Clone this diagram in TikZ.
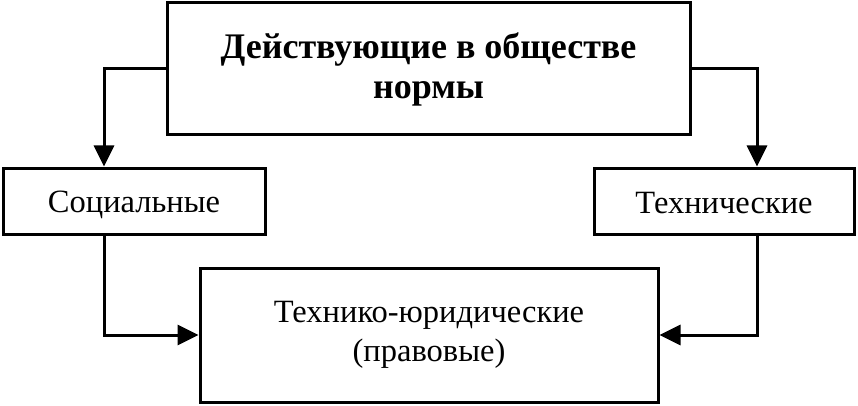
\documentclass[tikz,border=0pt]{standalone}
\usepackage{fontspec}
\setmainfont{Liberation Serif}
\usetikzlibrary{arrows.meta}
\begin{document}
\begin{tikzpicture}[x=1pt,y=-1pt,
  box/.style={draw=black,line width=3pt,rectangle,inner sep=0pt,align=center},
  conn/.style={draw=black,line width=3pt,-{Triangle[length=21pt,width=20pt]}}]
\useasboundingbox (0,0) rectangle (858,406);
\node[box,minimum width=523pt,minimum height=132pt,font=\fontsize{36}{40}\selectfont\bfseries] (top) at (428.5,69) {Действующие в обществе\\нормы};
\node[box,minimum width=262pt,minimum height=66pt,font=\fontsize{32.5}{36}\selectfont] (soc) at (134,201) {\raisebox{-4pt}[\height][\depth]{Социальные}};
\node[box,minimum width=260pt,minimum height=66pt,font=\fontsize{32.5}{36}\selectfont] (tech) at (724,201) {\raisebox{-2pt}[\height][\depth]{Технические}};
\node[box,minimum width=458pt,minimum height=134pt,font=\fontsize{32.5}{39}\selectfont] (bot) at (429,335) {Технико-юридические\\(правовые)};
\coordinate (sa) at ([xshift=-30pt]soc.north);
\coordinate (sb) at ([xshift=-30pt]soc.south);
\coordinate (ta) at ([xshift=33pt]tech.north);
\coordinate (tb) at ([xshift=33pt]tech.south);
\draw[conn] (top.west) -| (sa);
\draw[conn] (top.east) -| (ta);
\draw[conn] (sb) |- (bot.west);
\draw[conn] (tb) |- (bot.east);
\end{tikzpicture}
\end{document}
